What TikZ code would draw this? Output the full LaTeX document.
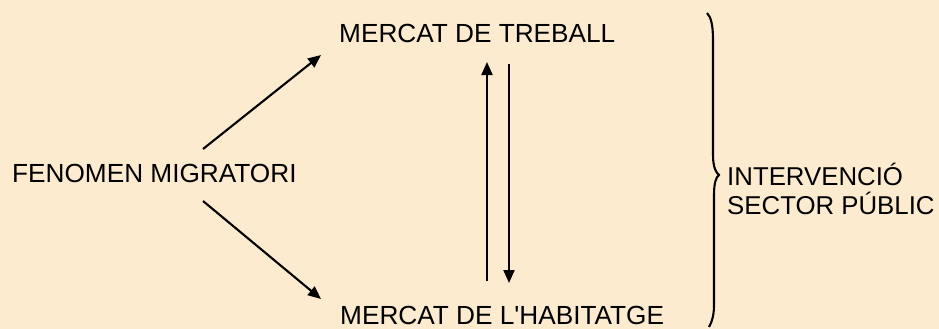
\documentclass[tikz,border=0pt]{standalone}
\usepackage{fontspec}
\setmainfont{Liberation Sans}[Ligatures=TeXOff]
\usetikzlibrary{arrows.meta}
\definecolor{bgcol}{RGB}{253,235,208}
\begin{document}
\begin{tikzpicture}[x=1pt,y=-1pt,
  lbl/.style={inner sep=0pt,anchor=base west,font=\fontsize{26.2}{28.5}\selectfont},
  arr/.style={line width=2.1pt,-{Triangle[length=13pt,width=11pt]}}]
\fill[bgcol] (0,0) rectangle (939,329);
\useasboundingbox (0,0) rectangle (939,329);
\node[lbl] (fen) at (12,182) {FENOMEN MIGRATORI};
\node[lbl] (treb) at (339,43) {MERCAT DE TREBALL};
\node[lbl] (hab) at (340,324) {MERCAT DE L'HABITATGE};
\node[lbl,align=left,font=\fontsize{25.8}{28.5}\selectfont] (int) at (727,214) {INTERVENCIÓ\\SECTOR PÚBLIC};
\coordinate (a1s) at (203,149);
\coordinate (a1e) at (321,55);
\coordinate (a2s) at (203,201);
\coordinate (a2e) at (321,299);
\coordinate (ups) at (487,281);
\coordinate (upe) at (487,62);
\coordinate (dns) at (509,64);
\coordinate (dne) at (509,283);
\draw[arr] (a1s) -- (a1e);
\draw[arr] (a2s) -- (a2e);
\draw[arr] (ups) -- (upe);
\draw[arr] (dns) -- (dne);
\draw[line width=2.1pt] (707,13) .. controls (711,17) and (713,25) .. (713,40) -- (713,155) .. controls (713,167) and (716,173) .. (719,175) .. controls (716,177) and (714,183) .. (714,195) -- (714,305) .. controls (714,315) and (712,322) .. (709,327);
\end{tikzpicture}
\end{document}
